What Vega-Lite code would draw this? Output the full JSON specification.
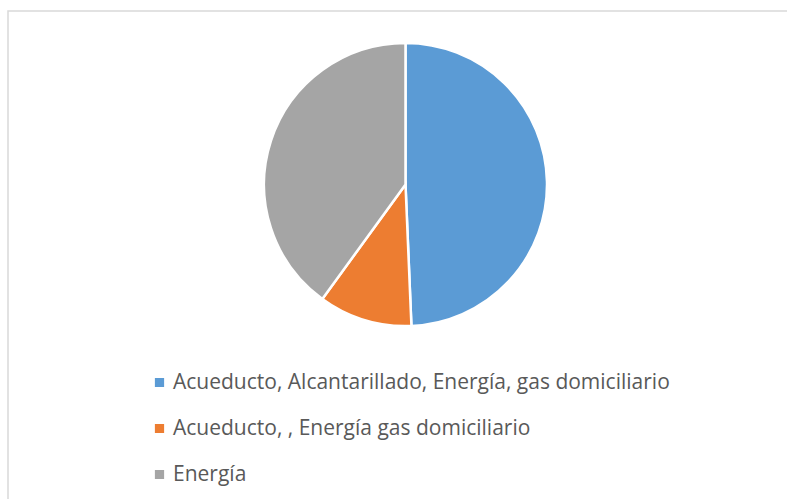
{
  "$schema": "https://vega.github.io/schema/vega-lite/v6.json",
  "autosize": "none",
  "padding": {"left": 8, "top": 11, "right": 0, "bottom": 0},
  "width": 800,
  "height": 500,
  "background": "white",
  "view": {"stroke": "#D9D9D9", "strokeWidth": 1.5, "fill": "white"},
  "data": {"values": [
    {"servicio": "Acueducto, Alcantarillado, Energía, gas domiciliario", "n": 37, "orden": 1},
    {"servicio": "Acueducto, , Energía gas domiciliario", "n": 8, "orden": 2},
    {"servicio": "Energía", "n": 30, "orden": 3}
  ]},
  "mark": {"type": "arc", "outerRadius": 141.5, "xOffset": -2.5, "yOffset": -76.5, "stroke": "white", "strokeWidth": 2.5},
  "encoding": {
    "theta": {"field": "n", "type": "quantitative", "stack": true},
    "order": {"field": "orden", "type": "quantitative"},
    "color": {
      "field": "servicio", "type": "nominal",
      "scale": {
        "domain": ["Acueducto, Alcantarillado, Energía, gas domiciliario", "Acueducto, , Energía gas domiciliario", "Energía"],
        "range": ["#5B9BD5", "#ED7D31", "#A5A5A5"]
      },
      "legend": {
        "title": null,
        "orient": "none",
        "legendX": 141,
        "legendY": 361,
        "padding": 0,
        "symbolType": "square",
        "symbolSize": 85,
        "symbolStrokeWidth": 0,
        "labelFont": "Open Sans",
        "labelFontSize": 21,
        "labelColor": "#595959",
        "labelLimit": 700,
        "labelOffset": 3,
        "rowPadding": 24,
        "clipHeight": 21
      }
    }
  }
}
